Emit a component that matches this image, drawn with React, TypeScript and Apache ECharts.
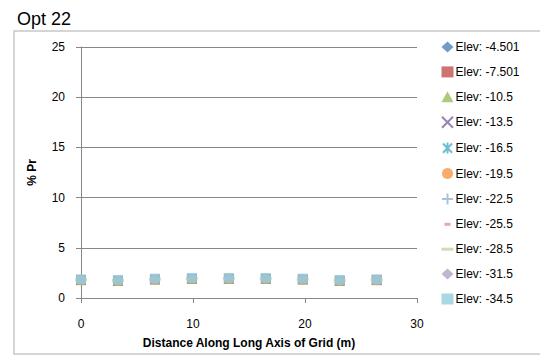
import React, { useEffect, useRef } from "react";
import * as echarts from "echarts";

const distances = [0, 3.3, 6.6, 9.9, 13.2, 16.5, 19.8, 23.1, 26.4];
const seriesNames = [
  "Elev: -4.501", "Elev: -7.501", "Elev: -10.5", "Elev: -13.5", "Elev: -16.5",
  "Elev: -19.5", "Elev: -22.5", "Elev: -25.5", "Elev: -28.5", "Elev: -31.5", "Elev: -34.5",
];
const s1 = [1.80, 1.72, 1.86, 1.92, 1.93, 1.92, 1.86, 1.72, 1.80];
const s2 = [1.79, 1.71, 1.85, 1.91, 1.92, 1.91, 1.85, 1.71, 1.79];
const s3 = [1.78, 1.70, 1.84, 1.90, 1.91, 1.90, 1.84, 1.70, 1.78];
const s4 = [1.79, 1.72, 1.85, 1.92, 1.92, 1.92, 1.85, 1.72, 1.79];
const s5 = [1.80, 1.73, 1.86, 1.93, 1.93, 1.93, 1.86, 1.73, 1.80];
const s6 = [1.78, 1.70, 1.83, 1.90, 1.90, 1.90, 1.83, 1.70, 1.78];
const s7 = [1.81, 1.74, 1.87, 1.94, 1.95, 1.94, 1.87, 1.74, 1.81];
const s8 = [1.80, 1.72, 1.86, 1.93, 1.94, 1.93, 1.86, 1.72, 1.80];
const s9 = [1.82, 1.75, 1.88, 1.95, 1.96, 1.95, 1.88, 1.75, 1.82];
const s10 = [1.84, 1.77, 1.90, 1.97, 1.98, 1.97, 1.90, 1.77, 1.84];
const s11 = [1.86, 1.80, 1.93, 2.00, 2.00, 2.00, 1.93, 1.80, 1.86];
const seriesValues = [s1, s2, s3, s4, s5, s6, s7, s8, s9, s10, s11];
const yTicks = [0, 5, 10, 15, 20, 25];
const xTicks = [0, 10, 20, 30];

const colors = [
  "#4F81BD", "#C0504D", "#9BBB59", "#8064A2", "#4BACC6", "#F79646",
  "#95B3D7", "#D99694", "#C3D69B", "#B3A2C7", "#93CDDD",
];
const FONT = "Liberation Sans";

type Sym = { symbol: string; size: number | number[]; icon: string; stroke?: boolean };
const symbols: Sym[] = [
  { symbol: "diamond", size: 10, icon: "diamond" },
  { symbol: "rect", size: 10, icon: "rect" },
  { symbol: "triangle", size: 10, icon: "triangle" },
  { symbol: "path://M0,0L10,10M10,0L0,10", size: 9, icon: "path://M0,0L10,10M10,0L0,10", stroke: true },
  { symbol: "path://M0,0L10,10M10,0L0,10M5,-1L5,11", size: 9, icon: "path://M0,0L10,10M10,0L0,10M5,-1L5,11", stroke: true },
  { symbol: "circle", size: 10, icon: "circle" },
  { symbol: "path://M5,0L5,10M0,5L10,5", size: 10, icon: "path://M5,0L5,10M0,5L10,5", stroke: true },
  { symbol: "rect", size: [7, 3], icon: "path://M0,0M12,0M3,0L9,0L9,3L3,3Z" },
  { symbol: "rect", size: [12, 3], icon: "path://M0,0L12,0L12,3L0,3Z" },
  { symbol: "diamond", size: 10, icon: "diamond" },
  { symbol: "rect", size: 10, icon: "rect" },
];

export default function App() {
  const ref = useRef<HTMLDivElement>(null);
  useEffect(() => {
    if (!ref.current) return;
    const chart = echarts.init(ref.current, undefined, { renderer: "svg" });
    const series = seriesNames.map((name, i) => {
      const sym = symbols[i];
      return {
        name,
        type: "scatter",
        data: distances.map((d, j) => [d, seriesValues[i][j]]),
        symbol: sym.symbol,
        symbolSize: sym.size,
        itemStyle: sym.stroke
          ? { color: colors[i], borderColor: colors[i], borderWidth: 1.3 }
          : { color: colors[i] },
      };
    });
    chart.setOption({
      animation: false,
      color: colors,
      title: {
        text: "Opt 22",
        left: 12,
        top: 5,
        textStyle: { fontFamily: FONT, fontSize: 18, fontWeight: "normal", color: "#000" },
      },
      graphic: [
        {
          type: "rect",
          shape: { x: 14, y: 31, width: 540, height: 323 },
          style: { fill: "none", stroke: "#C8C8C8", lineWidth: 1.5 },
          silent: true,
        },
      ],
      legend: {
        orient: "vertical",
        left: 441,
        top: 41,
        padding: 0,
        itemWidth: 12,
        itemHeight: 11,
        itemGap: 12.9,
        textStyle: { fontFamily: FONT, fontSize: 12, color: "#000", padding: [0, 0, 0, -3] },
        data: seriesNames.map((n, i) => ({ name: n, icon: symbols[i].icon })),
      },
      grid: { left: 81, top: 47, right: 123, bottom: 59 },
      xAxis: {
        type: "value",
        min: 0,
        max: 30,
        interval: 10,
        name: "Distance Along Long Axis of Grid (m)",
        nameLocation: "middle",
        nameGap: 39,
        nameTextStyle: { fontFamily: FONT, fontSize: 12, fontWeight: "bold", color: "#000" },
        axisLine: { lineStyle: { color: "#868686" } },
        axisTick: { show: true, length: 5, lineStyle: { color: "#868686" } },
        axisLabel: { fontFamily: FONT, fontSize: 12, color: "#000", margin: 20 },
        splitLine: { show: false },
      },
      yAxis: {
        type: "value",
        min: 0,
        max: 25,
        interval: 5,
        name: "% Pr",
        nameLocation: "middle",
        nameGap: 43,
        nameRotate: 90,
        nameTextStyle: { fontFamily: FONT, fontSize: 12, fontWeight: "bold", color: "#000" },
        axisLine: { show: true, lineStyle: { color: "#868686" } },
        axisTick: { show: true, length: 5, lineStyle: { color: "#868686" } },
        axisLabel: { fontFamily: FONT, fontSize: 12, color: "#000", margin: 16 },
        splitLine: { show: true, lineStyle: { color: "#868686", width: 1 } },
      },
      series,
    });
    return () => chart.dispose();
  }, []);
  return <div ref={ref} style={{ width: 540, height: 357, position: "absolute", left: 0, top: 0 }} />;
}
